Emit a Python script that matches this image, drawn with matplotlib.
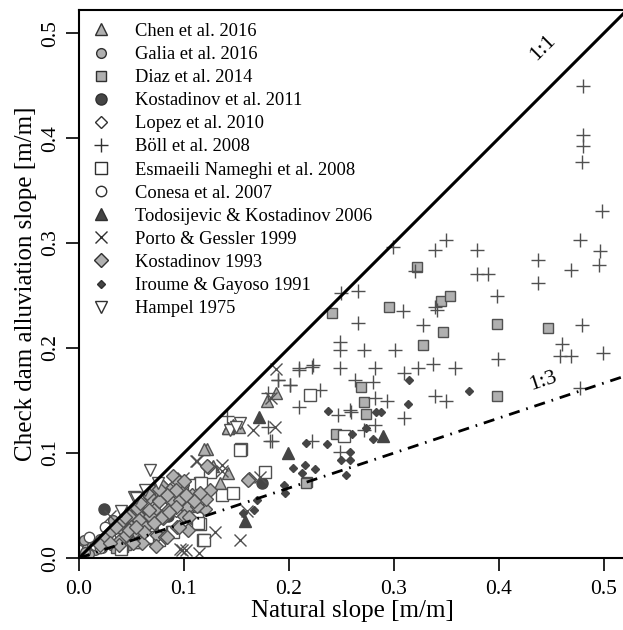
import numpy as np
import matplotlib.pyplot as plt
from matplotlib.lines import Line2D

plt.rcParams['font.family'] = ['Liberation Serif', 'DejaVu Serif']

# ---- data (natural slope, alluviation slope) ----
chen_x = [0.188, 0.179, 0.147, 0.142, 0.152, 0.122, 0.142, 0.134, 0.142, 0.128, 0.119, 0.030, 0.020, 0.045]
chen_y = [0.157, 0.150, 0.127, 0.124, 0.125, 0.104, 0.081, 0.071, 0.124, 0.088, 0.104, 0.022, 0.015, 0.035]

galia_x = [0.004, 0.008, 0.012, 0.015, 0.020, 0.025, 0.030, 0.035, 0.010, 0.018, 0.040, 0.006,
           0.022, 0.028, 0.005, 0.032]
galia_y = [0.016, 0.010, 0.012, 0.008, 0.018, 0.020, 0.025, 0.030, 0.004, 0.013, 0.028, 0.006,
           0.010, 0.016, 0.017, 0.036]

diaz_x = [0.322, 0.241, 0.295, 0.345, 0.353, 0.347, 0.328, 0.398, 0.447, 0.398, 0.269, 0.271,
          0.273, 0.245, 0.217, 0.216, 0.035, 0.045, 0.055, 0.065, 0.075, 0.088]
diaz_y = [0.277, 0.233, 0.239, 0.245, 0.250, 0.215, 0.203, 0.223, 0.219, 0.154, 0.163, 0.149,
          0.137, 0.118, 0.072, 0.071, 0.010, 0.012, 0.014, 0.018, 0.020, 0.026]

kost11_x = [0.024, 0.174, 0.060, 0.085]
kost11_y = [0.047, 0.071, 0.035, 0.040]

lopez_x = [0.080, 0.092, 0.100, 0.110, 0.070]
lopez_y = [0.050, 0.045, 0.060, 0.040, 0.030]

boll_x = [0.480, 0.480, 0.480, 0.479, 0.498, 0.477, 0.496, 0.495, 0.437, 0.469, 0.437, 0.379,
          0.379, 0.390, 0.398, 0.350, 0.339, 0.299, 0.320, 0.266, 0.250, 0.309, 0.339, 0.341,
          0.266, 0.328, 0.399, 0.479, 0.460, 0.458, 0.469, 0.499, 0.477, 0.249, 0.249, 0.271,
          0.301, 0.210, 0.222, 0.249, 0.282, 0.190, 0.201, 0.230, 0.263, 0.280, 0.310, 0.323,
          0.337, 0.358, 0.210, 0.258, 0.282, 0.293, 0.247, 0.259, 0.282, 0.310, 0.339, 0.350,
          0.184, 0.271, 0.249, 0.210, 0.223, 0.190, 0.201, 0.180, 0.180, 0.182, 0.222, 0.141]
boll_y = [0.450, 0.403, 0.392, 0.377, 0.331, 0.303, 0.292, 0.279, 0.284, 0.274, 0.262, 0.293,
          0.271, 0.271, 0.250, 0.303, 0.293, 0.296, 0.273, 0.254, 0.252, 0.235, 0.239, 0.236,
          0.224, 0.222, 0.190, 0.222, 0.204, 0.192, 0.192, 0.195, 0.162, 0.206, 0.198, 0.198,
          0.198, 0.181, 0.182, 0.181, 0.181, 0.170, 0.165, 0.160, 0.170, 0.168, 0.176, 0.181,
          0.185, 0.181, 0.144, 0.141, 0.152, 0.150, 0.136, 0.139, 0.127, 0.133, 0.154, 0.150,
          0.111, 0.122, 0.101, 0.179, 0.184, 0.170, 0.165, 0.157, 0.125, 0.111, 0.111, 0.135]

esma_x = [0.220, 0.154, 0.177, 0.115, 0.136, 0.147, 0.125, 0.252, 0.153, 0.112, 0.115, 0.118,
          0.076, 0.041, 0.110, 0.055, 0.065, 0.090, 0.116, 0.113, 0.119, 0.040]
esma_y = [0.155, 0.104, 0.082, 0.071, 0.060, 0.062, 0.082, 0.116, 0.103, 0.038, 0.032, 0.017,
          0.017, 0.011, 0.070, 0.015, 0.020, 0.025, 0.071, 0.033, 0.017, 0.009]

conesa_x = [0.015, 0.020, 0.030, 0.045, 0.025, 0.010]
conesa_y = [0.012, 0.010, 0.020, 0.030, 0.030, 0.020]

todo_x = [0.171, 0.199, 0.290, 0.158]
todo_y = [0.134, 0.100, 0.116, 0.035]

porto_x = [0.188, 0.183, 0.166, 0.187, 0.112, 0.136, 0.099, 0.172, 0.096, 0.102, 0.114, 0.130,
           0.153, 0.160, 0.040, 0.050, 0.060, 0.070, 0.075, 0.080, 0.085, 0.030, 0.136, 0.065,
           0.111, 0.098]
porto_y = [0.180, 0.152, 0.122, 0.125, 0.092, 0.089, 0.076, 0.077, 0.009, 0.008, 0.005, 0.025,
           0.017, 0.045, 0.030, 0.045, 0.050, 0.060, 0.065, 0.055, 0.070, 0.040, 0.083, 0.040,
           0.092, 0.008]

kost93_x = [0.162, 0.123, 0.098, 0.122, 0.125, 0.120, 0.121, 0.161, 0.068, 0.076, 0.087, 0.085,
            0.071, 0.058, 0.063, 0.052, 0.074, 0.039, 0.087, 0.096, 0.103, 0.104, 0.093, 0.082,
            0.060, 0.030, 0.035, 0.042, 0.048, 0.055, 0.065, 0.072, 0.078, 0.090, 0.095, 0.108,
            0.112, 0.045, 0.050, 0.025, 0.020, 0.068, 0.080, 0.100, 0.115, 0.058, 0.038,
            0.100, 0.110, 0.092, 0.084, 0.076, 0.067, 0.057, 0.048, 0.079, 0.071, 0.062, 0.051,
            0.084, 0.095, 0.105, 0.092, 0.102, 0.086, 0.044, 0.054, 0.073, 0.030, 0.076]
kost93_y = [0.075, 0.087, 0.070, 0.088, 0.065, 0.047, 0.056, 0.074, 0.058, 0.055, 0.055, 0.046,
            0.046, 0.039, 0.030, 0.025, 0.022, 0.017, 0.065, 0.055, 0.048, 0.027, 0.030, 0.020,
            0.014, 0.025, 0.030, 0.036, 0.040, 0.048, 0.062, 0.068, 0.070, 0.078, 0.072, 0.060,
            0.050, 0.022, 0.030, 0.018, 0.012, 0.040, 0.038, 0.040, 0.062, 0.052, 0.012,
            0.073, 0.054, 0.065, 0.060, 0.054, 0.046, 0.036, 0.027, 0.039, 0.033, 0.025, 0.014,
            0.020, 0.030, 0.039, 0.049, 0.060, 0.044, 0.039, 0.030, 0.011, 0.014, 0.066]

iroume_x = [0.216, 0.204, 0.215, 0.225, 0.212, 0.195, 0.196, 0.314, 0.313, 0.371, 0.237, 0.283,
            0.288, 0.273, 0.260, 0.280, 0.236, 0.250, 0.258, 0.258, 0.254, 0.170, 0.167, 0.156]
iroume_y = [0.110, 0.086, 0.089, 0.085, 0.081, 0.070, 0.062, 0.170, 0.147, 0.159, 0.140, 0.139,
            0.139, 0.124, 0.118, 0.113, 0.109, 0.093, 0.101, 0.093, 0.079, 0.055, 0.046, 0.043]

hampel_x = [0.068, 0.063, 0.052, 0.144, 0.153, 0.150, 0.040, 0.075, 0.054]
hampel_y = [0.084, 0.065, 0.058, 0.122, 0.129, 0.125, 0.045, 0.071, 0.057]

edge = '#505050'
gray = '#b0b0b0'
dark = '#454545'

# label, x, y, marker, size, face, edge
series = [
    ('Chen et al. 2016', chen_x, chen_y, '^', 9, gray, edge),
    ('Galia et al. 2016', galia_x, galia_y, 'o', 7, gray, edge),
    ('Diaz et al. 2014', diaz_x, diaz_y, 's', 7, gray, edge),
    ('Kostadinov et al. 2011', kost11_x, kost11_y, 'o', 8, dark, dark),
    ('Lopez et al. 2010', lopez_x, lopez_y, 'D', 6.5, 'white', edge),
    ('B\u00f6ll et al. 2008', boll_x, boll_y, '+', 10, 'none', edge),
    ('Esmaeili Nameghi et al. 2008', esma_x, esma_y, 's', 8, 'white', edge),
    ('Conesa et al. 2007', conesa_x, conesa_y, 'o', 7.5, 'white', edge),
    ('Todosijevic & Kostadinov 2006', todo_x, todo_y, '^', 9, dark, dark),
    ('Porto & Gessler 1999', porto_x, porto_y, 'x', 8, 'none', edge),
    ('Kostadinov 1993', kost93_x, kost93_y, 'D', 7, gray, edge),
    ('Iroume & Gayoso 1991', iroume_x, iroume_y, 'D', 4.5, dark, dark),
    ('Hampel 1975', hampel_x, hampel_y, 'v', 9, 'white', edge),
]

fig = plt.figure(figsize=(6.23, 6.30), dpi=100)
ax = fig.add_axes([79 / 623, 1 - 558 / 630, 547 / 623, 548 / 630])

handles = []
for lab, xs, ys, mk, ms, fc, ec in series:
    ax.plot(xs, ys, linestyle='none', marker=mk, markersize=ms,
            markerfacecolor=fc, markeredgecolor=ec, markeredgewidth=1.0)
    handles.append(Line2D([], [], linestyle='none', marker=mk, markersize=ms,
                          markerfacecolor=fc, markeredgecolor='#303030', markeredgewidth=1.0,
                          label=lab))

# reference lines
xl = np.array([0, 0.6])
ax.plot(xl, xl, color='black', lw=2.2)
ax.plot(xl, xl / 3, color='black', lw=2.0, dashes=(4, 2.5, 0.6, 2.5))
ax.text(0.442, 0.486, '1:1', rotation=45, fontsize=16, ha='center', va='center')
ax.text(0.442, 0.168, '1:3', rotation=18.4, fontsize=16, ha='center', va='center')

ax.set_xlim(0, 0.521)
ax.set_ylim(0, 0.522)
ax.set_xticks([0.0, 0.1, 0.2, 0.3, 0.4, 0.5])
ax.set_yticks([0.0, 0.1, 0.2, 0.3, 0.4, 0.5])
ax.set_xticklabels(['0.0', '0.1', '0.2', '0.3', '0.4', '0.5'])
ax.set_yticklabels(['0.0', '0.1', '0.2', '0.3', '0.4', '0.5'], rotation=90, va='center')
ax.tick_params(direction='out', length=9.5, width=1.2, labelsize=15.5)
ax.tick_params(axis='x', pad=6)
ax.tick_params(axis='y', pad=4)
for s in ax.spines.values():
    s.set_linewidth(1.5)

ax.set_xlabel('Natural slope [m/m]', fontsize=18, labelpad=1)
ax.set_ylabel('Check dam alluviation slope [m/m]', fontsize=18, labelpad=3)

ax.legend(handles=handles, loc='upper left', bbox_to_anchor=(0, 1), frameon=False,
          fontsize=13.3, handlelength=1.0, handletextpad=1.35, borderaxespad=0,
          borderpad=0.7, labelspacing=0.33, numpoints=1)

fig.savefig('out.png', dpi=100)
